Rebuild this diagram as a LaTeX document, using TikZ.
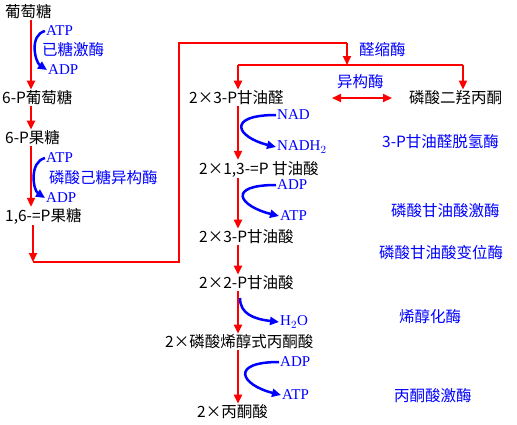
\documentclass[tikz,border=0pt]{standalone}
\usepackage{fontspec}
\setmainfont{Noto Sans CJK SC}
\newfontfamily\latinfont{Liberation Serif}
\usetikzlibrary{arrows.meta}

\begin{document}
\begin{tikzpicture}[x = 1pt, y = -1pt,
        every node/.style = {font = \fontsize{15.5}{16}\selectfont, inner sep = 1pt},
        chem/.style = {anchor = west, black},
        enz/.style = {anchor = west, blue},
        cof/.style = {enz, font = \fontsize{15}{16}\latinfont},
        redline/.style = {red, line width = 2pt},
        redarr/.style = {redline, -{Triangle[width = 8pt, length = 9pt]}},
        bluearr/.style = {blue, line width = 2.5pt, -{Triangle[width = 8pt, length = 9pt]}}]
        \useasboundingbox (0, 0) rectangle (517, 424);
        % columns of the main arrows
        \coordinate (colA) at (31, 0);
        \coordinate (colB) at (238, 0);
        \coordinate (colC) at (463, 0);
        % left column
        \node[chem] (glc) at (4, 12) {葡萄糖};
        \node[chem] (g6p) at (1, 98) {6-P葡萄糖};
        \node[chem] (f6p) at (4, 138) {6-P果糖};
        \node[chem] (f16) at (4, 216) {1,6-=P果糖};
        \node[cof] (atpA) at (45, 31) {ATP};
        \node[enz] (hk) at (41, 50) {已糖激酶};
        \node[cof] (adpA) at (47, 70) {ADP};
        \node[cof] (atpB) at (45, 158) {ATP};
        \node[enz] (pgi) at (48, 178) {磷酸己糖异构酶};
        \node[cof] (adpB) at (45, 198) {ADP};
        % right column
        \node[chem] (gap) at (188, 98) {2×3-P甘油醛};
        \node[chem] (dhap) at (408, 98) {磷酸二羟丙酮};
        \node[chem] (bpg) at (198, 169) {2×1,3-=P 甘油酸};
        \node[chem] (pgc) at (198, 237) {2×3-P甘油酸};
        \node[chem] (pgb) at (198, 283) {2×2-P甘油酸};
        \node[chem] (pep) at (164, 342) {2×磷酸烯醇式丙酮酸};
        \node[chem] (pyr) at (196, 412) {2×丙酮酸};
        \node[enz] (ald) at (358, 50) {醛缩酶};
        \node[enz] (tpi) at (336, 82) {异构酶};
        \node[cof] (nad) at (276, 115) {NAD};
        \node[cof] (nadh) at (276, 147) {NADH$_2$};
        \node[enz] (gapdh) at (381, 142) {3-P甘油醛脱氢酶};
        \node[cof] (adpC) at (276, 185) {ADP};
        \node[cof] (atpC) at (279, 216) {ATP};
        \node[enz] (pgk) at (390, 211) {磷酸甘油酸激酶};
        \node[enz] (pgm) at (378, 253) {磷酸甘油酸变位酶};
        \node[cof] (hho) at (279, 322) {H$_2$O};
        \node[enz] (eno) at (398, 317) {烯醇化酶};
        \node[cof] (adpD) at (279, 362) {ADP};
        \node[cof] (atpD) at (281, 395) {ATP};
        \node[enz] (pk) at (393, 396) {丙酮酸激酶};
        % red arrows
        \draw[redarr] (glc.south -| colA) -- (g6p.north -| colA);
        \draw[redarr] (g6p.south -| colA) -- (f6p.north -| colA);
        \draw[redarr] (f6p.south -| colA) -- (f16.north -| colA);
        \coordinate (bendA) at (33, 262);
        \coordinate (top) at (347, 43);
        \coordinate (split) at (347, 65);
        \draw[redarr] (f16.south -| bendA) -- (bendA);
        \draw[redline] (bendA) -- (179, 262) -- (179, 43) -- (top);
        \draw[redarr] (top) -- (split);
        \draw[redline] (split -| colB) -- (split -| colC);
        \draw[redarr] (split -| colB) -- (gap.north -| colB);
        \draw[redarr] (split -| colC) -- (dhap.north -| colC);
        \draw[redarr, {Triangle[width = 8pt, length = 9pt]}-{Triangle[width = 8pt, length = 9pt]}] (332, 98) -- (392, 98);
        \draw[redarr] (gap.south -| colB) -- (bpg.north -| colB);
        \draw[redarr] (bpg.south -| colB) -- (pgc.north -| colB);
        \draw[redarr] (pgc.south -| colB) -- (pgb.north -| colB);
        \draw[redarr] (pgb.south -| colB) -- (pep.north -| colB);
        \draw[redarr] (pep.south -| colB) -- (pyr.north -| colB);
        % blue side arrows
        \draw[bluearr] (atpA.west) .. controls +(-16, 4) and +(-12, -8) .. (adpA.west);
        \draw[bluearr] (atpB.west) .. controls +(-16, 4) and +(-12, -8) .. (adpB.west);
        \draw[bluearr] (nad.west) .. controls +(-50, 0) and +(-40, -10) .. (nadh.west);
        \draw[bluearr] (adpC.west) .. controls +(-50, 0) and +(-40, -10) .. (atpC.west);
        \draw[bluearr] (adpD.west) .. controls +(-50, 0) and +(-40, -10) .. (atpD.west);
        \coordinate (hhoStart) at (240, 298);
        \draw[bluearr] (hhoStart) .. controls +(0, 16) and +(-25, -3) .. (hho.west);
    \end{tikzpicture}
\end{document}
